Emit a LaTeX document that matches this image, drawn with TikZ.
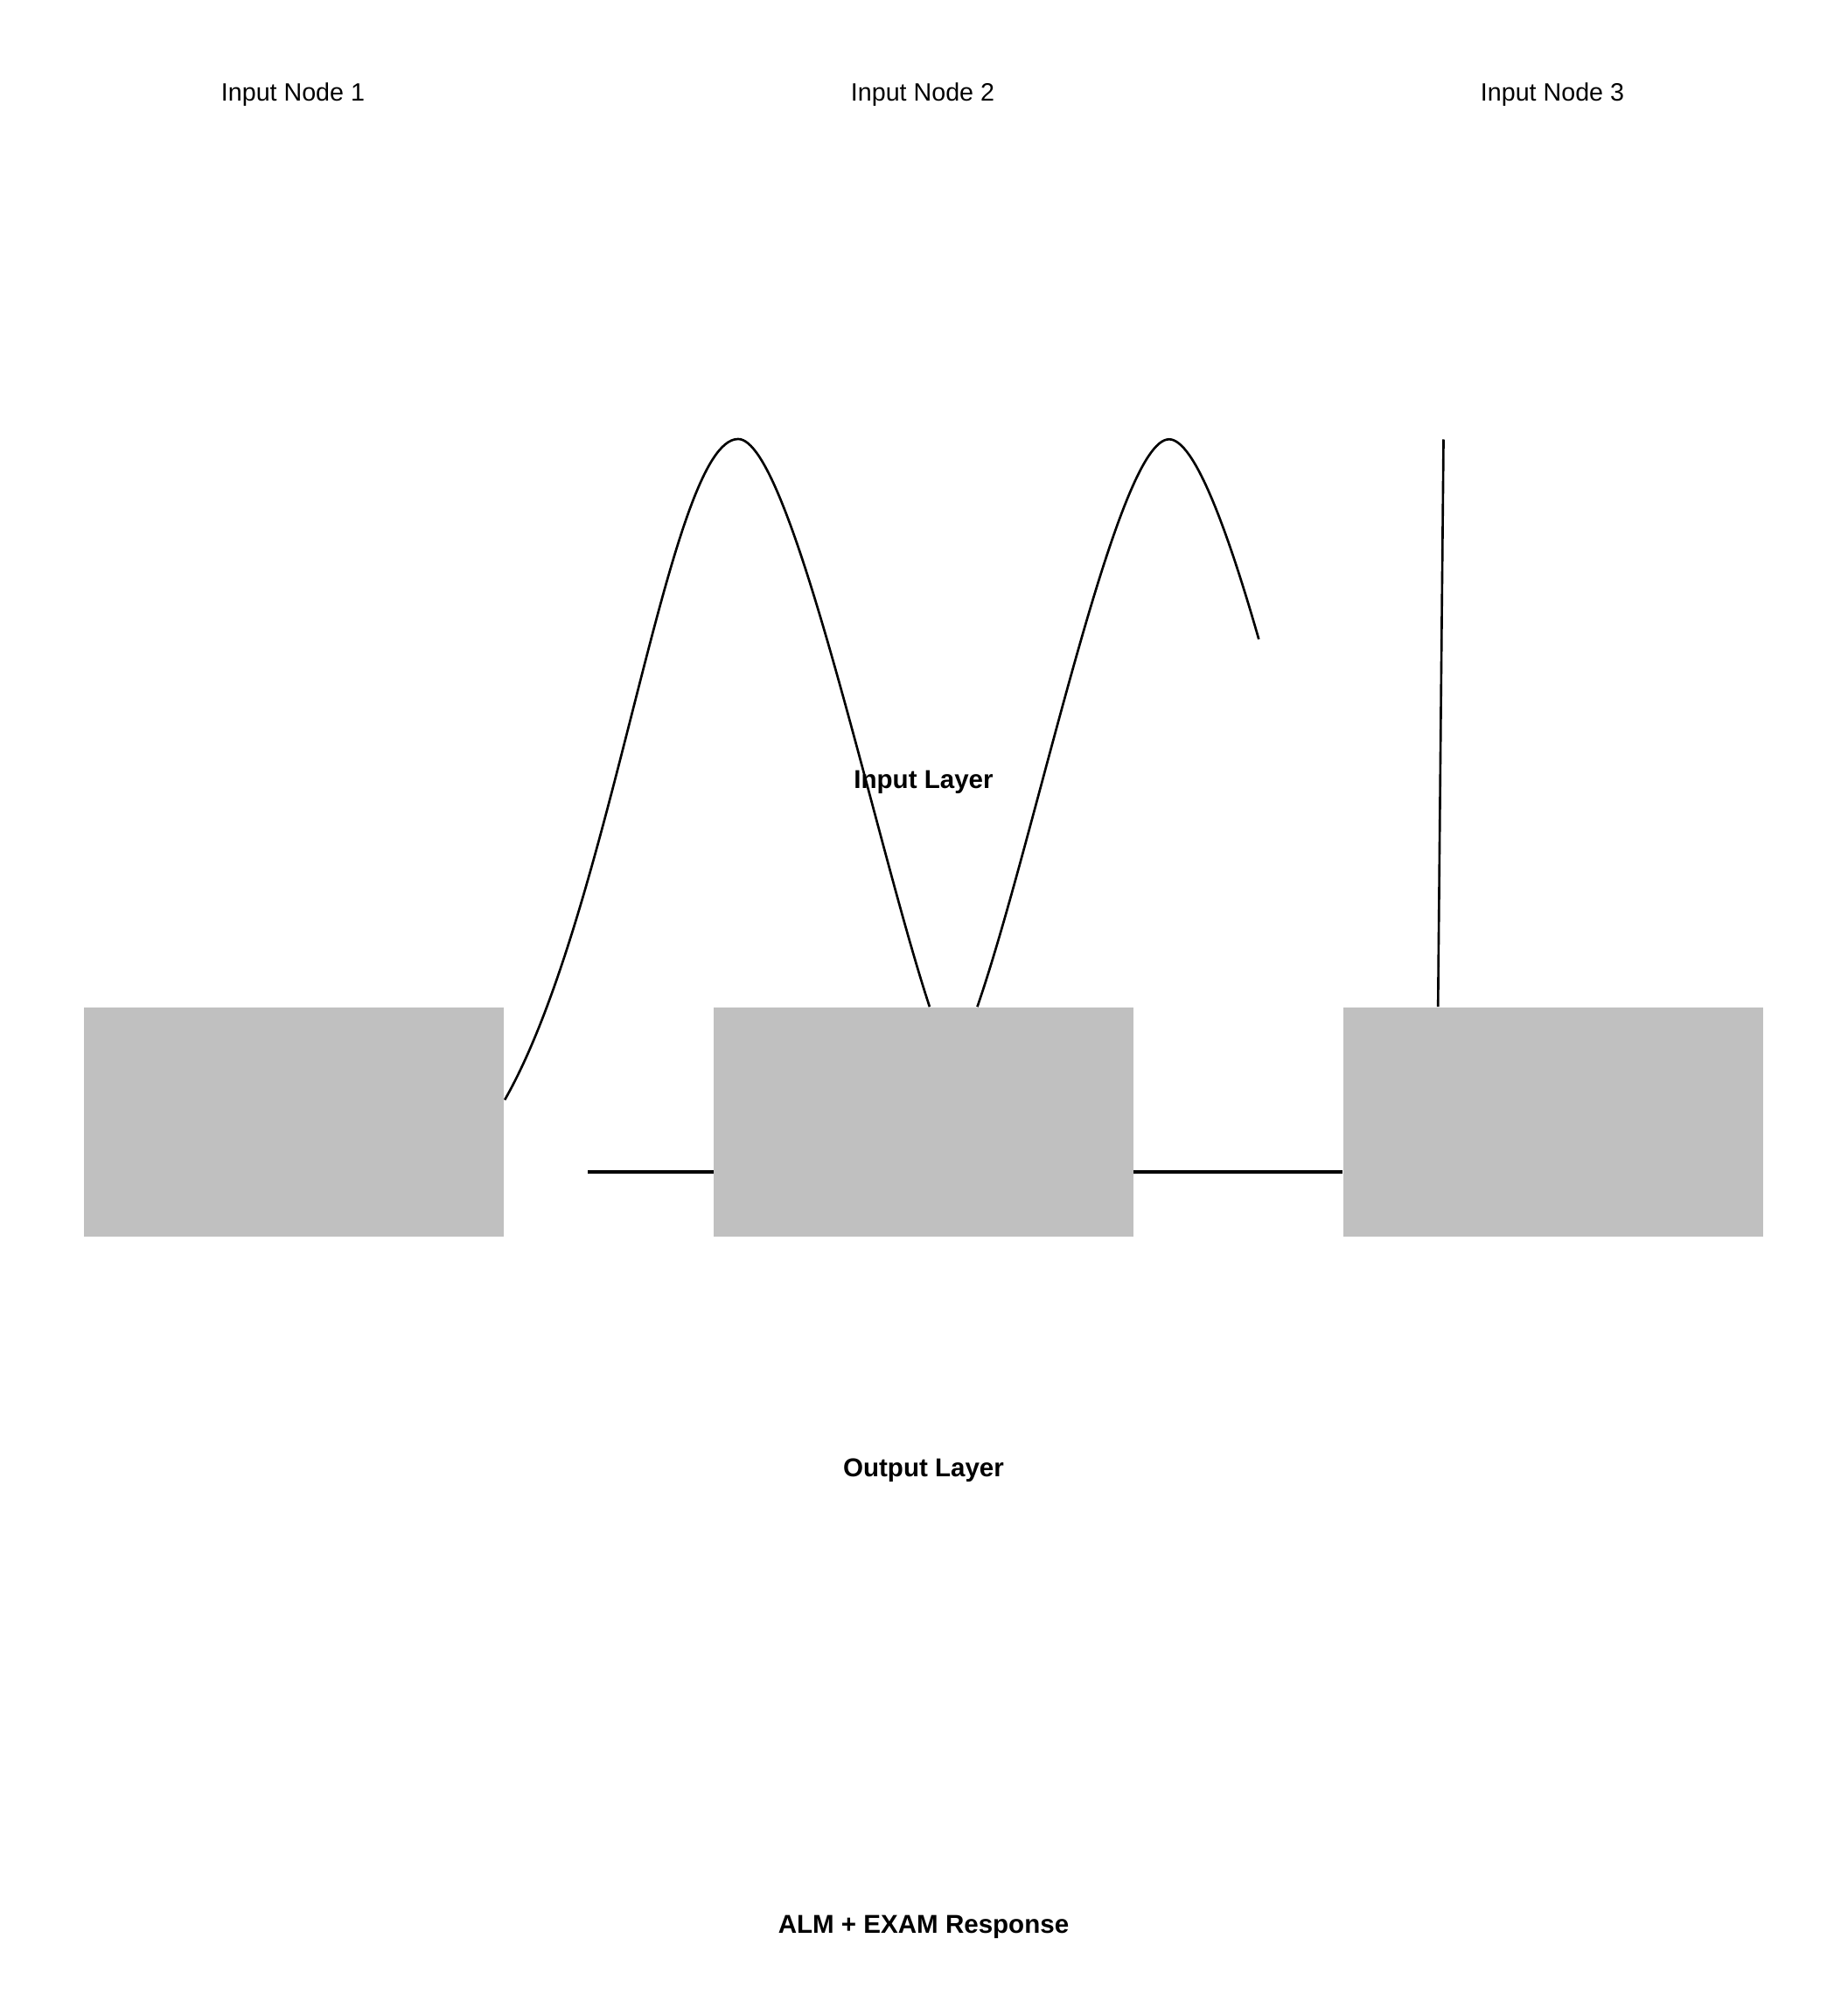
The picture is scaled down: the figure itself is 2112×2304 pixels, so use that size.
\documentclass[tikz,border=0pt]{standalone}
\usepackage{fontspec}
\setmainfont{Liberation Sans}
\usetikzlibrary{backgrounds}
\definecolor{boxgray}{RGB}{192,192,192}
\tikzset{
  layerbox/.style={fill=boxgray, draw=none, inner sep=0pt, minimum width=4.805cm, minimum height=2.62cm},
  nodelabel/.style={anchor=base, inner sep=0pt, font=\fontsize{8.15}{10}\selectfont},
  layerlabel/.style={anchor=base, inner sep=0pt, font=\fontsize{8.4}{10}\selectfont\bfseries},
  wire/.style={draw=black, line width=0.75pt},
  thickwire/.style={draw=black, line width=0.95pt}
}
\begin{document}
\begin{tikzpicture}[x=0.01cm, y=-0.01cm]
\useasboundingbox (0,0) rectangle (2112,2304);
% labels
\node[nodelabel] (in1) at (335,116) {Input Node 1};
\node[nodelabel] (in2) at (1055,116) {Input Node 2};
\node[nodelabel] (in3) at (1775,116) {Input Node 3};
\node[layerlabel] (inlayer) at (1056,901.5) {Input Layer};
\node[layerlabel] (outlayer) at (1056,1688) {Output Layer};
\node[layerlabel] (resp) at (1056,2210.5) {ALM + EXAM Response};
% boxes
\node[layerbox] (box1) at (336,1283) {};
\node[layerbox] (box2) at (1056,1283) {};
\node[layerbox] (box3) at (1776,1283) {};
% free points
\coordinate (p1) at (844,502);
\coordinate (p2) at (1336.7,502.3);
\coordinate (e2) at (1439.3,731);
\coordinate (v3) at (1650.5,502.5);
\coordinate (h1) at (672,1340);
\begin{scope}[on background layer]
  \fill[white] (0,0) rectangle (2112,2304);
  \draw[thickwire] (h1) -- (h1 -| box3.west);
  \draw[wire] (box1.6) .. controls (701,1040.5) and (764,502) .. (p1)
              .. controls (904,502) and (1000,960) .. (box2.87);
  \draw[wire] (box2.65) .. controls (1185,955) and (1276.7,502.3) .. (p2)
              .. controls (1365.2,502.3) and (1402.7,603.3) .. (e2);
  \draw[wire] (v3) -- (box3.135);
\end{scope}
\end{tikzpicture}
\end{document}
